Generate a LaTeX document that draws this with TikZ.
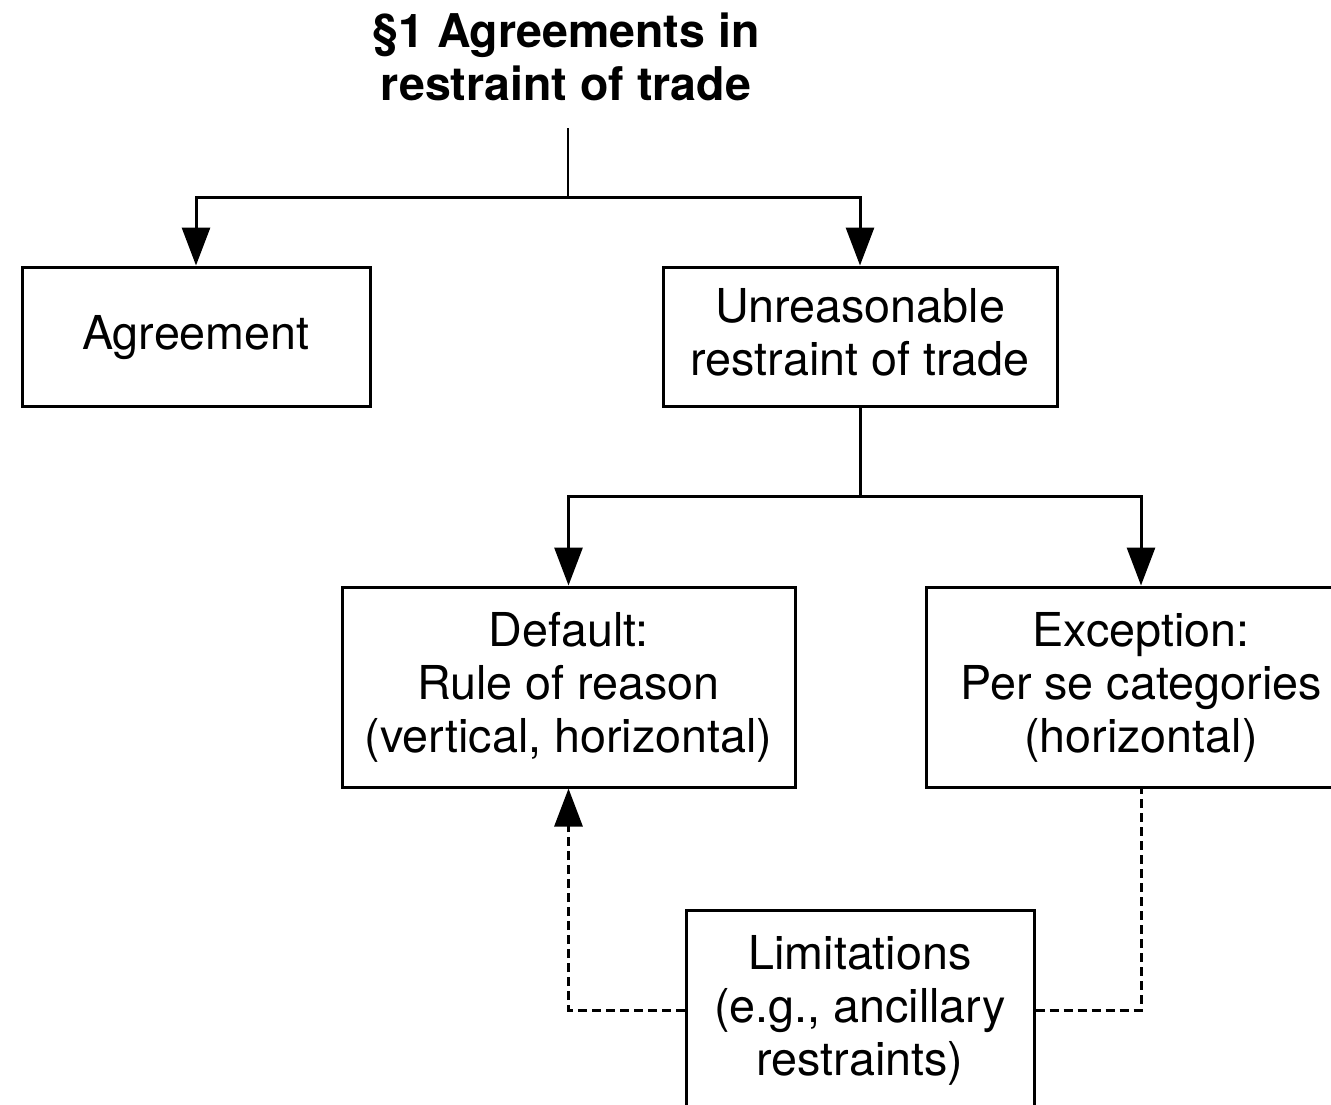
\documentclass[tikz,border=0pt]{standalone}
\usepackage{fontspec}
\setmainfont{TeX Gyre Heros}
\usetikzlibrary{arrows.meta}

% line strut: every text line gets the same height and depth
\newcommand\lnstrut{\rule[-14pt]{0pt}{53pt}}

\tikzset{
  box/.style={draw, line width=3pt, rectangle, inner sep=0pt, align=center,
              font=\fontsize{46.7}{53}\selectfont},
  conn/.style={line width=3pt},
  arr/.style={conn, -{Triangle[width=28pt,length=38pt]}},
  dashconn/.style={line width=3pt, dash pattern=on 9pt off 5pt},
}

\begin{document}
\begin{tikzpicture}[x=1pt,y=-1pt]
\useasboundingbox (0,0) rectangle (1331,1104);
\clip (0,0) rectangle (1331,1104);

% heading
\node[align=center, font=\fontsize{46.5}{53}\selectfont\bfseries] (title) at (566,56.5)
  {§1 Agreements in\\restraint of trade};

% boxes
\node[box, minimum width=348pt, minimum height=139pt] (agr) at (196,336.5)
  {\lnstrut Agreement};
\node[box, minimum width=394pt, minimum height=139pt] (unr) at (860,336.5)
  {\lnstrut Unreasonable\\\lnstrut restraint of trade};
\node[box, minimum width=453pt, minimum height=200pt] (def) at (568.5,687)
  {\lnstrut Default:\\\lnstrut Rule of reason\\\lnstrut (vertical, horizontal)};
\node[box, minimum width=430pt, minimum height=200pt] (exc) at (1141,687)
  {\lnstrut Exception:\\\lnstrut Per se categories\\\lnstrut (horizontal)};
\node[box, minimum width=348pt, minimum height=200pt] (lim) at (860,1010)
  {\lnstrut Limitations\\\lnstrut (e.g., ancillary\\\lnstrut restraints)};

% branch points
\coordinate (stem) at (568,128);
\coordinate (j1) at (568,197);
\coordinate (j2) at (860,496);

% tree connectors
\draw[line width=2pt] (stem) -- (j1);
\draw[arr] (j1) -| (agr.north);
\draw[arr] (j1) -| (unr.north);
\draw[conn] (unr.south) -- (j2);
\draw[arr] (j2) -| (def.north);
\draw[arr] (j2) -| (exc.north);

% limitation links
\draw[dashconn, -{Triangle[width=28pt,length=38pt]}] (lim.west) -| (def.south);
\draw[dashconn] (lim.east) -| (exc.south);
\end{tikzpicture}
\end{document}
